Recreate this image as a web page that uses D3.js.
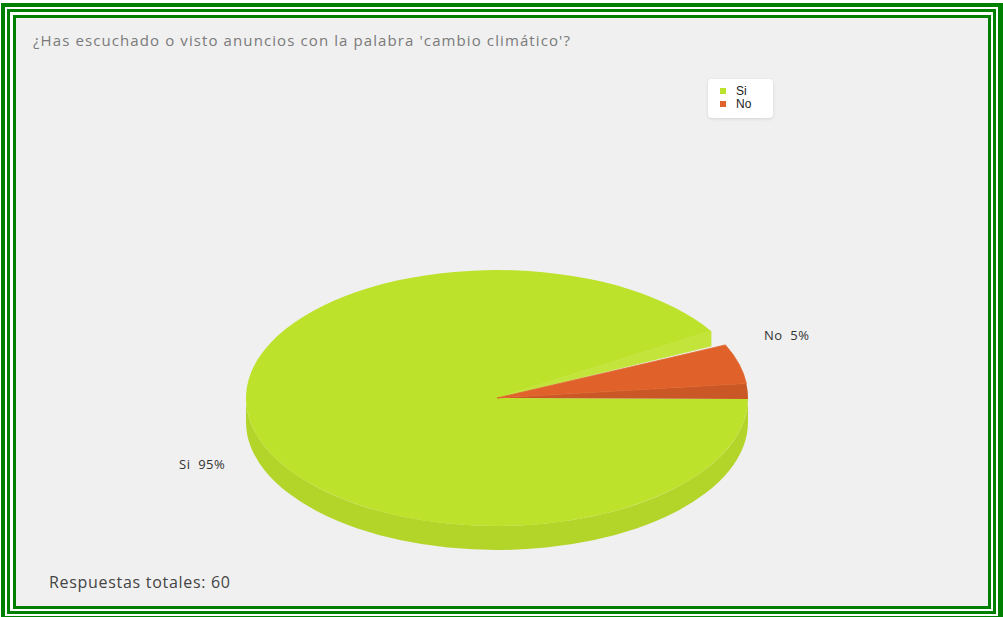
<!DOCTYPE html>
<html><head><meta charset="utf-8">
<script src="https://cdn.jsdelivr.net/npm/d3@7/dist/d3.min.js"></script>
<style>html,body{margin:0;padding:0;background:#fff;}svg{display:block;}</style>
</head><body>
<script>
const title = "¿Has escuchado o visto anuncios con la palabra 'cambio climático'?";
const categories = ["Si", "No"];
const values = [95, 5];
const percentLabels = ["95%", "5%"];
const colors = ["#bde22c", "#e0622a"];
const totalLabel = "Respuestas totales: 60";

const W = 1003, H = 617;
const svg = d3.select("body").append("svg").attr("width", W).attr("height", H);

// frame
const frames = [
  {x:1, y:3, x2:1003, y2:620, c:"#008000"},
  {x:5, y:7, x2:998, y2:616, c:"#ffffff"},
  {x:7, y:9, x2:996, y2:614, c:"#008000"},
  {x:10, y:12, x2:993, y2:611, c:"#ffffff"},
  {x:13, y:15, x2:991, y2:609, c:"#008000"},
  {x:16, y:18, x2:988, y2:606, c:"#f0f0f0"}
];
svg.selectAll("rect.frame").data(frames).join("rect").attr("class","frame")
  .attr("x", d=>d.x).attr("y", d=>d.y).attr("width", d=>d.x2-d.x).attr("height", d=>d.y2-d.y).attr("fill", d=>d.c);

svg.append("text").attr("x", 33).attr("y", 46).attr("fill", "#7a7a7a")
  .style("font-family", "'Open Sans', sans-serif").style("font-size", "15px").style("letter-spacing", "1.1px").text(title);

svg.append("text").attr("x", 49).attr("y", 588).attr("fill", "#444")
  .style("font-family", "'Open Sans', sans-serif").style("font-size", "16px").style("letter-spacing", "0.7px").text(totalLabel);

// 3D pie
const cx = 497, cy = 398, rx = 251, ry = 128, depth = 24;
const deg = Math.PI / 180;
const wallW = 7 * deg;
const pie = d3.pie().sort(null).startAngle(24.5 * deg).endAngle(24.5 * deg + 2 * Math.PI);
const arcs = pie(values);
const P = (t, dy = 0) => [cx + rx * Math.cos(t), cy - ry * Math.sin(t) + dy];
function wedge(t1, t2) {
  const a = P(t1), b = P(t2);
  const large = (t2 - t1) > Math.PI ? 1 : 0;
  return `M${cx},${cy}L${a[0]},${a[1]}A${rx},${ry} 0 ${large} 0 ${b[0]},${b[1]}Z`;
}
const shade = (c, k) => d3.color(c).darker(k).formatHex();
const g = svg.append("g");
// front outer wall of the big slice
const L0 = P(Math.PI), Bm = P(1.5 * Math.PI), R0 = P(2 * Math.PI);
g.append("path")
  .attr("d", `M${L0[0]},${L0[1]}A${rx},${ry} 0 0 0 ${Bm[0]},${Bm[1]}A${rx},${ry} 0 0 0 ${R0[0]},${R0[1]}`
    + `L${R0[0]},${R0[1] + depth}A${rx},${ry} 0 0 1 ${Bm[0]},${Bm[1] + depth}A${rx},${ry} 0 0 1 ${L0[0]},${L0[1] + depth}Z`)
  .attr("fill", shade(colors[0], 0.16));
// big slice top
g.append("path").attr("d", wedge(arcs[0].startAngle + wallW, arcs[0].endAngle - wallW)).attr("fill", colors[0]);
// cut face strip of big slice
const s = P(arcs[0].startAngle + wallW);
g.append("path").attr("d", `M${cx},${cy}L${s[0]},${s[1]}L${s[0]},${s[1] + 15}Z`)
  .attr("fill", "#c3e43a").attr("stroke", "#c3e43a").attr("stroke-width", 0.8);
// cut face of small slice
g.append("path").attr("d", wedge(arcs[1].startAngle - wallW, arcs[1].startAngle)).attr("fill", shade(colors[1], 0.3));
// small slice top
g.append("path").attr("d", wedge(arcs[1].startAngle, arcs[1].endAngle)).attr("fill", colors[1])
  .attr("stroke", colors[1]).attr("stroke-width", 0.8).attr("stroke-linejoin", "round");

// slice labels
const labelStyle = sel => sel.style("font-family", "'Open Sans', sans-serif").style("font-size", "13px")
  .style("letter-spacing", "0.5px").attr("fill", "#333").style("white-space", "pre");
labelStyle(svg.append("text").attr("x", 764).attr("y", 340).text(categories[1] + "  " + percentLabels[1]));
labelStyle(svg.append("text").attr("x", 179).attr("y", 469).text(categories[0] + "  " + percentLabels[0]));

// legend
const defs = svg.append("defs");
const f = defs.append("filter").attr("id", "sh").attr("x", "-20%").attr("y", "-20%").attr("width", "140%").attr("height", "140%");
f.append("feDropShadow").attr("dx", 0).attr("dy", 1).attr("stdDeviation", 1.5).attr("flood-color", "#000").attr("flood-opacity", 0.12);
const lg = svg.append("g").attr("transform", "translate(708,79)");
lg.append("rect").attr("width", 65).attr("height", 39).attr("rx", 4).attr("fill", "#fff").attr("filter", "url(#sh)");
const items = lg.selectAll("g.it").data(categories).join("g").attr("class", "it")
  .attr("transform", (d, i) => `translate(12,${9 + i * 13})`);
items.append("rect").attr("width", 6).attr("height", 6).attr("fill", (d, i) => colors[i]);
items.append("text").attr("x", 16).attr("y", 7).style("font-family", "'Liberation Sans', Arial, sans-serif")
  .style("font-size", "12px").attr("fill", "#222").text(d => d);
</script>
</body></html>
